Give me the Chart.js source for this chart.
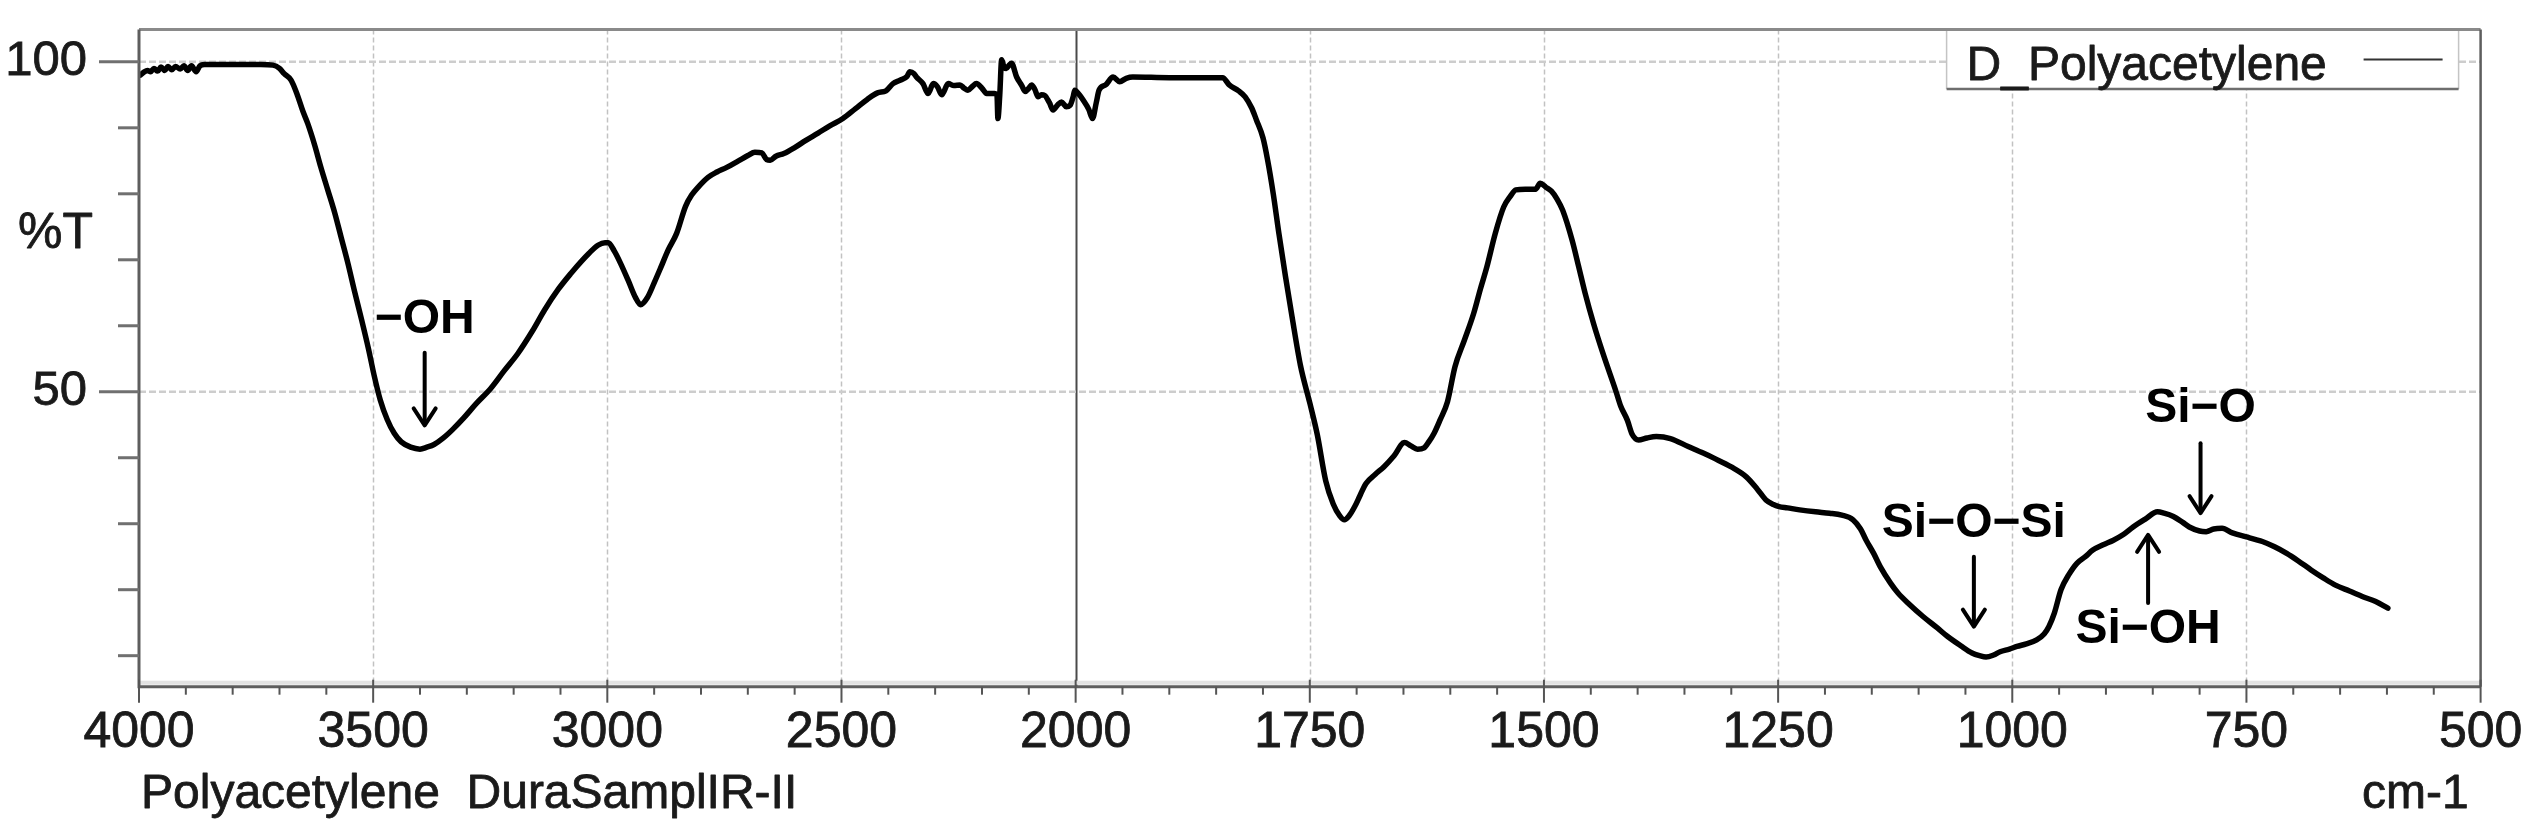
<!DOCTYPE html>
<html><head><meta charset="utf-8">
<script src="https://cdn.jsdelivr.net/npm/chart.js@4.4.0/dist/chart.umd.min.js"></script>
<style>html,body{margin:0;padding:0;background:#fff;overflow:hidden}#wrap{width:2532px;height:830px;position:relative}</style>
</head><body><div id="wrap"><canvas id="c" width="2532" height="830"></canvas></div>
<script>
// ---- data (wavenumber cm-1, %T) ----
const wavenumbers = [
3997,3990,3982,3975,3968,3960,3953,3945,3938,3930,3922,3912,3904,3896,3888,3878,3870,3860,3800,3740,
3714,3700,3690,3675,3663,3650,3640,3625,3612,3597,3582,3568,3554,3540,3525,3510,3498,3485,3470,3455,
3440,3420,3400,3385,3370,3350,3330,3307,3280,3249,3220,3191,3160,3134,3105,3077,3055,3039,3020,3005,
2998,2985,2972,2955,2940,2929,2915,2900,2886,2870,2852,2833,2820,2805,2785,2766,2745,2720,2700,2685,
2670,2660,2652,2640,2623,2600,2576,2550,2525,2497,2470,2445,2423,2405,2390,2375,2360,2354,2345,2340,
2326,2315,2304,2295,2286,2272,2260,2247,2238,2230,2220,2212,2200,2190,2173,2168,2166,2162,2158,2153,
2148,2142,2137,2126,2115,2108,2100,2094,2087,2080,2073,2066,2056,2048,2038,2030,2020,2012,2005,2002,
1996,1992,1986,1982,1978,1975,1968,1960,1953,1946,1939,1900,1843,1836,1826,1819,1812,1807,1800,1795,
1789,1783,1776,1769,1760,1750,1742,1733,1725,1718,1713,1708,1702,1696,1690,1680,1671,1660,1649,1642,
1635,1628,1623,1617,1611,1603,1595,1585,1575,1568,1561,1552,1543,1536,1530,1520,1509,1504,1498,1492,
1486,1480,1470,1463,1456,1447,1437,1423,1418,1411,1406,1399,1390,1380,1365,1346,1330,1318,1300,1284,
1272,1263,1255,1249,1240,1227,1210,1195,1182,1170,1162,1156,1148,1141,1130,1122,1110,1095,1080,1069,
1055,1043,1035,1028,1020,1013,1003,995,985,974,966,961,955,948,940,931,922,914,903,892,
881,871,858,845,838,828,818,811,800,793,785,776,765,750,740,733,720,707,695,681,
668,655,640,625,612,599];
const transmittance = [
98.0,98.4,98.7,98.5,99.0,98.6,99.2,98.7,99.3,98.8,99.3,98.9,99.4,98.7,99.4,98.5,99.4,99.6,99.6,99.6,
99.5,99.0,98.2,97.2,95.2,92.5,90.7,87.4,84.1,80.6,77.1,73.3,69.5,65.3,61.0,56.5,52.5,48.8,45.8,43.7,
42.4,41.6,41.3,41.6,42.0,43.0,44.3,46.0,48.2,50.5,53.2,55.8,59.2,62.4,65.5,68.0,69.8,71.0,72.2,72.6,
72.6,71.3,69.5,66.8,64.3,63.2,64.2,66.5,68.8,71.5,74.0,78.1,79.8,81.1,82.5,83.3,84.0,85.0,85.8,86.3,
86.2,85.2,85.1,85.7,86.1,87.0,88.1,89.2,90.3,91.4,92.9,94.3,95.3,95.6,96.7,97.2,97.8,98.5,98.2,97.7,
96.7,95.2,96.7,96.2,95.0,96.7,96.4,96.5,96.0,95.7,96.3,96.7,96.0,95.2,95.2,95.0,91.4,95.0,100.3,99.2,
99.0,99.5,99.8,97.7,96.4,95.5,96.0,96.5,95.8,94.7,95.0,94.9,93.8,92.7,93.5,93.9,93.2,93.4,94.8,95.7,
95.0,94.2,92.8,91.4,93.8,95.7,96.5,97.7,97.0,97.5,97.7,97.6,97.6,96.5,95.6,94.7,93.0,91.2,88.5,85.1,
80.0,74.0,67.5,61.4,54.0,48.3,43.5,36.5,33.0,31.2,30.6,31.2,32.6,34.4,36.1,37.5,38.6,40.3,42.3,41.8,
41.3,41.5,42.4,43.8,45.7,48.5,53.8,57.8,61.9,65.5,68.9,74.0,78.0,79.6,80.6,80.7,80.7,81.6,81.0,80.4,
79.2,77.5,73.0,69.0,64.9,60.3,55.8,50.0,47.8,45.7,43.6,42.7,43.0,43.2,42.9,41.7,40.7,39.9,38.6,37.1,
35.2,33.6,32.9,32.6,32.4,32.1,31.8,31.6,31.3,30.6,29.2,27.5,25.5,23.5,21.0,19.5,17.8,15.9,14.2,12.9,
11.5,10.4,10.0,9.8,10.1,10.6,11.0,11.4,11.8,12.4,13.3,14.4,16.5,20.0,22.2,24.0,25.0,26.0,26.8,27.5,
28.4,29.5,30.7,31.8,31.6,31.1,30.2,29.5,28.9,28.8,29.2,29.3,28.6,28.0,27.6,27.3,26.5,25.5,24.4,23.0,
21.8,20.7,19.8,18.9,18.2,17.2];
const xTickLabels = [4000,3500,3000,2500,2000,1750,1500,1250,1000,750,500];
const yTickValues = [10,20,30,40,50,60,70,80,90,100];
const yLabelledValues = [50,100];
const seriesName = 'D_Polyacetylene';
const yAxisTitle = '%T';
const xAxisTitle = 'cm-1';
const footerText = 'Polyacetylene  DuraSamplIR-II';
// annotation labels: text, wavenumber, %T of text baseline, arrow tail %T, arrow tip %T
const annLabels = ['\u2212OH', 'Si\u2212O\u2212Si', 'Si\u2212OH', 'Si\u2212O'];
const annWn     = [3390, 1041, 855, 799];
const annTextT  = [58.9, 28.0, 11.9, 45.4];
const annTailT  = [55.9, 25.0, 18.0, 42.2];
const annTipT   = [44.9, 14.4, 28.3, 31.6];

// FTIR axis with 2x expansion below 2000 cm-1
function pos(wn){ return wn >= 2000 ? (4000 - wn) / 500 : 4 + (2000 - wn) / 250; }

const FONT = "'Liberation Sans', Arial, sans-serif";

function strokeFill(ctx, t, x, y, w){
  ctx.lineWidth = w; ctx.lineJoin = 'round';
  ctx.strokeStyle = ctx.fillStyle;
  ctx.strokeText(t, x, y); ctx.fillText(t, x, y);
}

const framePlugin = {
  id: 'frame',
  beforeDatasetsDraw(chart){
    const {ctx, chartArea: a, scales:{x, y}} = chart;
    ctx.save();
    xTickLabels.forEach(w => {
      if (w === 4000 || w === 500) return;
      const px = Math.round(x.getPixelForValue(pos(w))) + 0.5;
      ctx.beginPath();
      if (w === 2000) { ctx.setLineDash([]); ctx.strokeStyle = '#4a4a4a'; ctx.lineWidth = 2; }
      else { ctx.setLineDash([5,3]); ctx.strokeStyle = '#c2c2c2'; ctx.lineWidth = 1.5; }
      ctx.moveTo(px, a.top); ctx.lineTo(px, a.bottom); ctx.stroke();
    });
    yLabelledValues.forEach(v => {
      const py = y.getPixelForValue(v);
      ctx.beginPath(); ctx.setLineDash([7,3]); ctx.strokeStyle = '#cdcdcd'; ctx.lineWidth = 2.5;
      ctx.moveTo(a.left, py); ctx.lineTo(a.right, py); ctx.stroke();
    });
    ctx.setLineDash([]);
    // legend box
    const lx0 = a.right - 534, lx1 = a.right - 22, ly0 = a.top, ly1 = a.top + 59.5;
    ctx.fillStyle = '#fff'; ctx.fillRect(lx0, ly0, lx1 - lx0, ly1 - ly0);
    ctx.strokeStyle = '#c4c4c4'; ctx.lineWidth = 1.5;
    ctx.beginPath(); ctx.moveTo(lx0, ly0); ctx.lineTo(lx0, ly1); ctx.moveTo(lx1, ly0); ctx.lineTo(lx1, ly1); ctx.stroke();
    ctx.strokeStyle = '#6e6e6e'; ctx.lineWidth = 2.5;
    ctx.beginPath(); ctx.moveTo(lx0, ly1); ctx.lineTo(lx1, ly1); ctx.stroke();
    ctx.fillStyle = '#1a1a1a'; ctx.font = `48px ${FONT}`; ctx.textAlign = 'left'; ctx.textBaseline = 'alphabetic';
    strokeFill(ctx, seriesName, lx0 + 20, ly0 + 50.5, 0.8);
    ctx.strokeStyle = '#333'; ctx.lineWidth = 2;
    ctx.beginPath(); ctx.moveTo(lx0 + 417, ly0 + 30); ctx.lineTo(lx0 + 496, ly0 + 30); ctx.stroke();
    ctx.restore();
  },
  afterDraw(chart){
    const {ctx, chartArea: a, scales:{x, y}} = chart;
    ctx.save();
    ctx.fillStyle = '#e2e2e2'; ctx.fillRect(a.left, a.bottom - 6, a.right - a.left, 4);
    ctx.strokeStyle = '#8a8a8a'; ctx.lineWidth = 3;
    ctx.beginPath(); ctx.moveTo(a.left, a.top); ctx.lineTo(a.right, a.top); ctx.stroke();
    ctx.strokeStyle = '#5e5e5e'; ctx.lineWidth = 3;
    ctx.beginPath(); ctx.moveTo(a.left, a.top); ctx.lineTo(a.left, a.bottom); ctx.lineTo(a.right, a.bottom); ctx.stroke();
    ctx.lineWidth = 2.5;
    ctx.beginPath(); ctx.moveTo(a.right, a.top); ctx.lineTo(a.right, a.bottom); ctx.stroke();
    ctx.strokeStyle = '#555'; ctx.lineWidth = 2;
    for (let k = 0; k <= 50; k++) {
      const px = x.getPixelForValue(k / 5);
      const major = k % 5 === 0;
      ctx.beginPath(); ctx.moveTo(px, major ? a.bottom - 7 : a.bottom); ctx.lineTo(px, a.bottom + (major ? 16 : 8)); ctx.stroke();
    }
    ctx.strokeStyle = '#707070'; ctx.lineWidth = 3;
    yTickValues.forEach(v => {
      const py = y.getPixelForValue(v);
      const major = yLabelledValues.includes(v);
      ctx.beginPath(); ctx.moveTo(a.left - (major ? 40 : 21), py); ctx.lineTo(a.left, py); ctx.stroke();
    });
    ctx.fillStyle = '#000'; ctx.strokeStyle = '#000';
    ctx.font = `bold 48px ${FONT}`; ctx.textAlign = 'center'; ctx.textBaseline = 'alphabetic';
    annLabels.forEach((t, i) => {
      const px = x.getPixelForValue(pos(annWn[i]));
      ctx.fillText(t, px, y.getPixelForValue(annTextT[i]));
      const y0 = y.getPixelForValue(annTailT[i]), y1 = y.getPixelForValue(annTipT[i]);
      const dir = y1 > y0 ? 1 : -1;
      ctx.lineWidth = 4; ctx.lineCap = 'round'; ctx.lineJoin = 'round';
      ctx.beginPath(); ctx.moveTo(px, y0); ctx.lineTo(px, y1 - dir * 2); ctx.stroke();
      ctx.beginPath(); ctx.moveTo(px - 11, y1 - dir * 17); ctx.lineTo(px, y1); ctx.lineTo(px + 11, y1 - dir * 17); ctx.stroke();
    });
    ctx.fillStyle = '#1a1a1a'; ctx.font = `50px ${FONT}`; ctx.textAlign = 'left';
    strokeFill(ctx, yAxisTitle, 18, 248, 0.8);
    ctx.font = `48px ${FONT}`;
    strokeFill(ctx, footerText, a.left + 2, 808, 0.8);
    ctx.textAlign = 'right';
    strokeFill(ctx, xAxisTitle, a.right - 12, 808, 0.8);
    ctx.restore();
  }
};

new Chart(document.getElementById('c').getContext('2d'), {
  type: 'line',
  data: { datasets: [{
    label: seriesName,
    data: wavenumbers.map((w, i) => ({x: pos(w), y: transmittance[i]})),
    borderColor: '#000', borderWidth: 5.5, pointRadius: 0, cubicInterpolationMode: 'monotone', fill: false,
    borderJoinStyle: 'round', borderCapStyle: 'round'
  }]},
  options: {
    responsive: false, animation: false, devicePixelRatio: 1,
    layout: { padding: { left: 0, top: 29.5, right: 51.4, bottom: 0 } },
    plugins: { legend: { display: false }, tooltip: { enabled: false } },
    scales: {
      x: {
        type: 'linear', min: 0, max: 10,
        afterBuildTicks: s => { s.ticks = xTickLabels.map(w => ({value: pos(w)})); },
        afterFit: s => { s.height = 143.3; s.paddingLeft = 0; s.paddingRight = 0; },
        grid: { display: false, drawTicks: false }, border: { display: false },
        ticks: { autoSkip: false, maxRotation: 0, padding: 17, color: '#1a1a1a',
                 textStrokeColor: '#1a1a1a', textStrokeWidth: 0.8,
                 font: { family: FONT, size: 50 }, callback: (v, i) => String(xTickLabels[i]) }
      },
      y: {
        min: 5.3, max: 104.9,
        afterBuildTicks: s => { s.ticks = yTickValues.map(v => ({value: v})); },
        afterFit: s => { s.width = 139; s.paddingTop = 0; s.paddingBottom = 0; },
        grid: { display: false, drawTicks: false }, border: { display: false },
        ticks: { autoSkip: false, padding: 52, color: '#1a1a1a',
                 textStrokeColor: '#1a1a1a', textStrokeWidth: 0.8,
                 font: { family: FONT, size: 49 },
                 callback: v => yLabelledValues.includes(v) ? String(v) : '' }
      }
    }
  },
  plugins: [framePlugin]
});
</script></body></html>
